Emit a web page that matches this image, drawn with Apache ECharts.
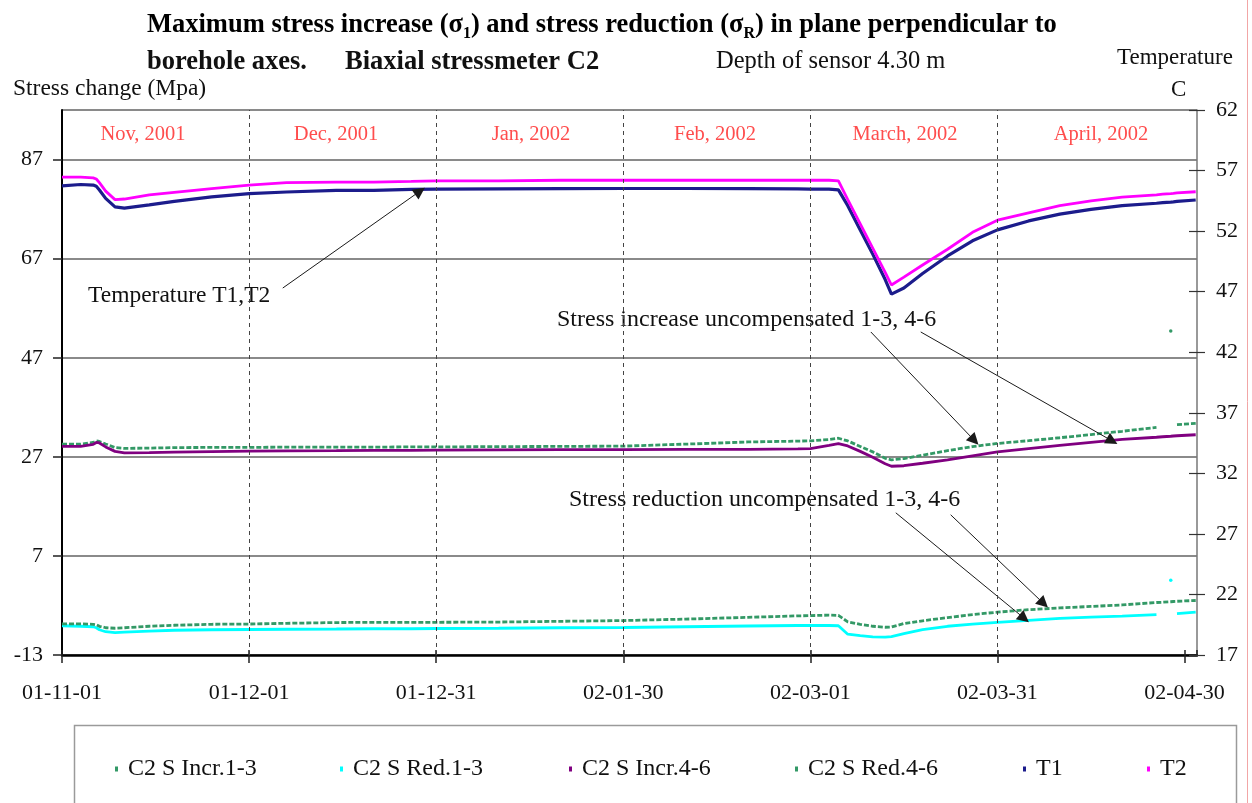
<!DOCTYPE html>
<html>
<head>
<meta charset="utf-8">
<script src="https://cdn.jsdelivr.net/npm/echarts@6/dist/echarts.min.js"></script>
<style>
  html, body { margin: 0; padding: 0; background: #ffffff; }
  #chart { width: 1252px; height: 803px; }
</style>
</head>
<body>
<div id="chart"></div>
<script>
// Sampling instants of the borehole record
const dates = ['2001-11-01','2001-11-04','2001-11-06','2001-11-06T12:00','2001-11-07','2001-11-08','2001-11-09T12:00','2001-11-11','2001-11-15','2001-11-19','2001-11-25','2001-12-01','2001-12-07','2001-12-15','2001-12-21','2001-12-27','2001-12-31','2002-01-10','2002-01-20','2002-01-30','2002-02-09','2002-02-19','2002-02-27','2002-03-01','2002-03-04','2002-03-05T12:00','2002-03-07','2002-03-09','2002-03-11','2002-03-13','2002-03-14','2002-03-16','2002-03-19','2002-03-23','2002-03-27','2002-03-31','2002-04-05','2002-04-10','2002-04-15','2002-04-20','2002-04-25T12:00','2002-04-26T12:00','2002-04-27T19:00','2002-04-28T05:00','2002-04-28T19:00','2002-05-01T19:00'];

// Stress change, Mpa (null = no reading)
const incr13 = [29.56,29.56,29.9,30.2,30.1,29.6,28.86,28.7,28.76,28.86,28.9,28.9,28.96,28.96,28.96,29.0,29.0,29.06,29.1,29.16,29.56,30.0,30.17,30.23,30.5,30.75,30.2,29.1,28.0,26.7,26.4,26.64,27.34,28.25,29.06,29.7,30.25,30.85,31.5,32.15,32.95,null,52.4,null,33.5,33.75];
const red13 = [-7.1,-7.2,-7.3,-7.5,-7.9,-8.3,-8.5,-8.4,-8.2,-8.0,-7.9,-7.85,-7.8,-7.75,-7.7,-7.7,-7.65,-7.6,-7.5,-7.45,-7.3,-7.15,-7.05,-7.05,-7.05,-7.1,-8.8,-9.1,-9.35,-9.4,-9.3,-8.7,-7.9,-7.2,-6.75,-6.4,-6.0,-5.6,-5.35,-5.15,-4.85,null,2.1,null,-4.65,-4.35];
const incr46 = [29.1,29.1,29.5,29.9,29.8,29.0,28.1,27.8,27.85,27.95,28.05,28.15,28.2,28.25,28.3,28.3,28.35,28.4,28.45,28.45,28.5,28.5,28.6,28.65,29.3,29.65,29.2,28.1,26.9,25.6,25.1,25.2,25.7,26.4,27.2,28.0,28.65,29.3,29.9,30.5,30.95,31.05,31.15,31.2,31.25,31.45];
const red46 = [-6.7,-6.7,-6.8,-6.9,-7.2,-7.5,-7.6,-7.5,-7.2,-7.0,-6.8,-6.75,-6.6,-6.45,-6.4,-6.4,-6.4,-6.35,-6.2,-6.05,-5.75,-5.4,-5.1,-5.05,-4.95,-5.0,-6.3,-6.8,-7.2,-7.4,-7.35,-6.65,-6.1,-5.45,-4.85,-4.35,-3.85,-3.5,-3.2,-2.9,-2.4,-2.35,-2.25,-2.2,-2.15,-2.0];

// Temperature, C
const t1 = [55.73,55.85,55.8,55.7,55.4,54.7,54.0,53.9,54.16,54.45,54.82,55.1,55.23,55.36,55.37,55.44,55.46,55.48,55.5,55.52,55.52,55.5,55.48,55.46,55.46,55.4,54.1,52.1,50.1,48.0,46.8,47.3,48.5,49.95,51.2,52.1,52.84,53.4,53.8,54.1,54.3,54.35,54.4,54.42,54.45,54.57];
const t2 = [56.45,56.45,56.4,56.3,56.0,55.3,54.6,54.65,55.0,55.2,55.5,55.8,56.0,56.05,56.05,56.1,56.15,56.15,56.2,56.2,56.2,56.2,56.2,56.2,56.2,56.15,54.6,52.6,50.6,48.6,47.55,48.2,49.2,50.5,51.9,52.9,53.5,54.1,54.5,54.8,55.0,55.05,55.1,55.12,55.15,55.25];

// Axis ticks
const stressTicks = [-13, 7, 27, 47, 67, 87];
const stressMax = 97;
const tempTicks = [17, 22, 27, 32, 37, 42, 47, 52, 57, 62];
const dateTicks = ['2001-11-01','2001-12-01','2001-12-31','2002-01-30','2002-03-01','2002-03-31','2002-04-30'];
const dateEnd = '2002-05-02';
const months = ['Nov, 2001','Dec, 2001','Jan, 2002','Feb, 2002','March, 2002','April, 2002'];

const DAY = 86400000;
const parseDate = s => Date.parse(s.length === 10 ? s + 'T00:00:00Z' : s + ':00Z');
const t0 = parseDate(dateTicks[0]);
const dayOf = s => (parseDate(s) - t0) / DAY;
const xs = dates.map(dayOf);
const pad = n => String(n).padStart(2, '0');
const fmtDay = d => {
  const dt = new Date(t0 + d * DAY);
  return pad(dt.getUTCFullYear() % 100) + '-' + pad(dt.getUTCMonth() + 1) + '-' + pad(dt.getUTCDate());
};

// [day, value] pairs; an isolated reading between gaps is drawn as a dot
function toSeries(vals) {
  return vals.map((v, i) => {
    if (v == null) return [xs[i], '-'];
    const prevGap = i > 0 && vals[i - 1] == null;
    const nextGap = i < vals.length - 1 && vals[i + 1] == null;
    if (prevGap && nextGap) return { value: [xs[i], v], symbol: 'circle', symbolSize: 3.5 };
    return [xs[i], v];
  });
}

const SERIF = '"Liberation Serif", "Times New Roman", serif';
const INK = '#111111';
const GREEN = '#339966';

function lineSeries(name, vals, color, yAxisIndex, extra) {
  return Object.assign({
    name, type: 'line', xAxisIndex: 0, yAxisIndex,
    data: toSeries(vals),
    symbol: 'none', showSymbol: true,
    connectNulls: false,
    itemStyle: { color },
    lineStyle: { color, width: 2.8 },
    silent: true, animation: false
  }, extra || {});
}

const arrowLine = (from, to) => [{ coord: from }, { coord: to }];
const arrowMark = pairs => ({
  silent: true, animation: false,
  symbol: ['none', 'triangle'], symbolSize: 12,
  label: { show: false },
  lineStyle: { color: '#1a1a1a', width: 1, type: 'solid' },
  itemStyle: { color: '#000' },
  data: pairs
});

const xMin = 0, xMax = dayOf(dateEnd), xStep = dayOf(dateTicks[1]);
const sMin = stressTicks[0], sStep = stressTicks[1] - stressTicks[0];
const tMin = tempTicks[0], tMax = tempTicks[tempTicks.length - 1], tStep = tempTicks[1] - tempTicks[0];

const chart = echarts.init(document.getElementById('chart'), null, { renderer: 'canvas' });

const labelFont = { fontFamily: SERIF, fontSize: 22, color: INK };
const gridBox = { left: 62, right: 55, top: 110, bottom: 148, containLabel: false };

// Dashed month dividers at the inner date ticks
const dividerMark = {
  silent: true, animation: false, symbol: 'none',
  label: { show: false },
  lineStyle: { color: '#444', width: 1, type: [4, 4] },
  data: dateTicks.slice(1, -1).map(d => ({ xAxis: dayOf(d) }))
};

const option = {
  backgroundColor: '#ffffff',
  animation: false,
  grid: [Object.assign({}, gridBox), Object.assign({}, gridBox)],
  xAxis: [
    {
      gridIndex: 0, type: 'value', min: xMin, max: xMax, interval: xStep, position: 'bottom',
      axisLine: { show: true, onZero: false, lineStyle: { color: '#000', width: 2.5 } },
      axisTick: { show: true, inside: false, length: 8, lineStyle: { color: '#222', width: 1.5 } },
      axisLabel: Object.assign({ margin: 27, showMaxLabel: false, formatter: v => fmtDay(v) }, labelFont),
      splitLine: { show: false }
    },
    {
      gridIndex: 1, type: 'value', min: xMin, max: xMax, interval: xStep, position: 'bottom',
      axisLine: { show: false, onZero: false },
      axisTick: { show: true, inside: true, length: 5, lineStyle: { color: '#222', width: 1.5 } },
      axisLabel: { show: false }, splitLine: { show: false }
    }
  ],
  yAxis: [
    {
      gridIndex: 0, type: 'value', min: sMin, max: stressMax, interval: sStep, position: 'left',
      axisLine: { show: true, onZero: false, lineStyle: { color: '#000', width: 2 } },
      axisTick: { show: true, inside: false, length: 9, lineStyle: { color: '#222', width: 1.5 } },
      axisLabel: Object.assign({ margin: 19, showMaxLabel: false }, labelFont),
      splitLine: { show: true, lineStyle: { color: '#8a8a8a', width: 1.8 } }
    },
    {
      gridIndex: 0, type: 'value', min: tMin, max: tMax, interval: tStep, position: 'right',
      axisLine: { show: true, onZero: false, lineStyle: { color: '#777', width: 1.5 } },
      axisTick: { show: true, inside: false, length: 8, lineStyle: { color: '#333', width: 1.2 } },
      axisLabel: Object.assign({ margin: 19 }, labelFont),
      splitLine: { show: false }
    },
    {
      gridIndex: 1, type: 'value', min: tMin, max: tMax, interval: tStep, position: 'right',
      axisLine: { show: false, onZero: false },
      axisTick: { show: true, inside: true, length: 8, lineStyle: { color: '#333', width: 1.2 } },
      axisLabel: { show: false }, splitLine: { show: false }
    }
  ],
  series: [
    lineSeries('C2 S Incr.1-3', incr13, GREEN, 0, {
      lineStyle: { color: GREEN, width: 2.8, type: [5, 2] },
      markLine: arrowMark([
        arrowLine([129.7, 52.2], [146.3, 30.3]),
        arrowLine([137.7, 52.2], [168.4, 30.2])
      ])
    }),
    lineSeries('C2 S Red.1-3', red13, '#00ffff', 0, {
      markLine: arrowMark([
        arrowLine([133.7, 15.7], [154.3, -5.6]),
        arrowLine([142.5, 15.3], [157.4, -2.6])
      ])
    }),
    lineSeries('C2 S Incr.4-6', incr46, '#800080', 0, { markLine: dividerMark }),
    lineSeries('C2 S Red.4-6', red46, GREEN, 0, { lineStyle: { color: GREEN, width: 2.8, type: [5, 2] } }),
    lineSeries('T1', t1, '#1c1c8c', 1, {
      lineStyle: { color: '#1c1c8c', width: 3.2 },
      markLine: arrowMark([arrowLine([35.4, 47.3], [57.4, 55.3])])
    }),
    lineSeries('T2', t2, '#ff00ff', 1)
  ],
  legend: []
};

// Legend: one entry per slot inside the framed box
const legendSlots = [115, 340, 569, 795, 1023, 1147];
option.series.forEach((s, i) => {
  option.legend.push({
    data: [s.name], left: legendSlots[i], top: 757, padding: 0,
    icon: 'rect', itemWidth: 3, itemHeight: 5, itemGap: 0,
    selectedMode: false,
    textStyle: { fontFamily: SERIF, fontSize: 24, color: INK, padding: [0, 0, 0, 5] }
  });
});

const title1Rich = {
  b: { fontFamily: SERIF, fontSize: 26.5, fontWeight: 'bold', color: INK, lineHeight: 34 },
  s: { fontFamily: SERIF, fontSize: 16, fontWeight: 'bold', color: INK, lineHeight: 17, verticalAlign: 'bottom' }
};

const monthX = [143, 336, 531, 715, 905, 1101];

const txt = (text, x, y, font, extra) => Object.assign({
  type: 'text', x, y, silent: true,
  style: { text, font, fill: INK, verticalAlign: 'middle' }
}, extra || {});

option.graphic = [
  {
    type: 'text', x: 147, y: 8, silent: true,
    style: {
      text: '{b|Maximum stress increase (σ}{s|1}{b|) and stress reduction (σ}{s|R}{b|) in plane perpendicular to}',
      rich: title1Rich
    }
  },
  txt('borehole axes.', 147, 62, 'bold 26.5px ' + SERIF),
  txt('Biaxial stressmeter C2', 345, 62, 'bold 26.5px ' + SERIF),
  txt('Depth of sensor 4.30 m', 716, 62, '24.5px ' + SERIF),
  txt('Stress change (Mpa)', 13, 89, '23.5px ' + SERIF),
  txt('Temperature', 1117, 58, '23px ' + SERIF),
  txt('C', 1171, 90, '23px ' + SERIF),
  txt('Temperature T1,T2', 88, 296, '23.5px ' + SERIF),
  txt('Stress increase uncompensated 1-3, 4-6', 557, 320, '24px ' + SERIF),
  txt('Stress reduction uncompensated 1-3, 4-6', 569, 500, '24px ' + SERIF),
  {
    type: 'rect', silent: true, z: -1,
    shape: { x: 74.5, y: 725.5, width: 1162, height: 120 },
    style: { fill: 'none', stroke: '#9a9a9a', lineWidth: 1.5 }
  },
  {
    type: 'line', silent: true,
    shape: { x1: 1247.5, y1: 0, x2: 1247.5, y2: 803 },
    style: { stroke: '#f2a6a6', lineWidth: 1 }
  }
].concat(months.map((m, i) => ({
  type: 'text', x: monthX[i], y: 135, silent: true,
  style: { text: m, font: '20.5px ' + SERIF, fill: '#ff4d4d', align: 'center', verticalAlign: 'middle' }
})));

chart.setOption(option);
</script>
</body>
</html>
